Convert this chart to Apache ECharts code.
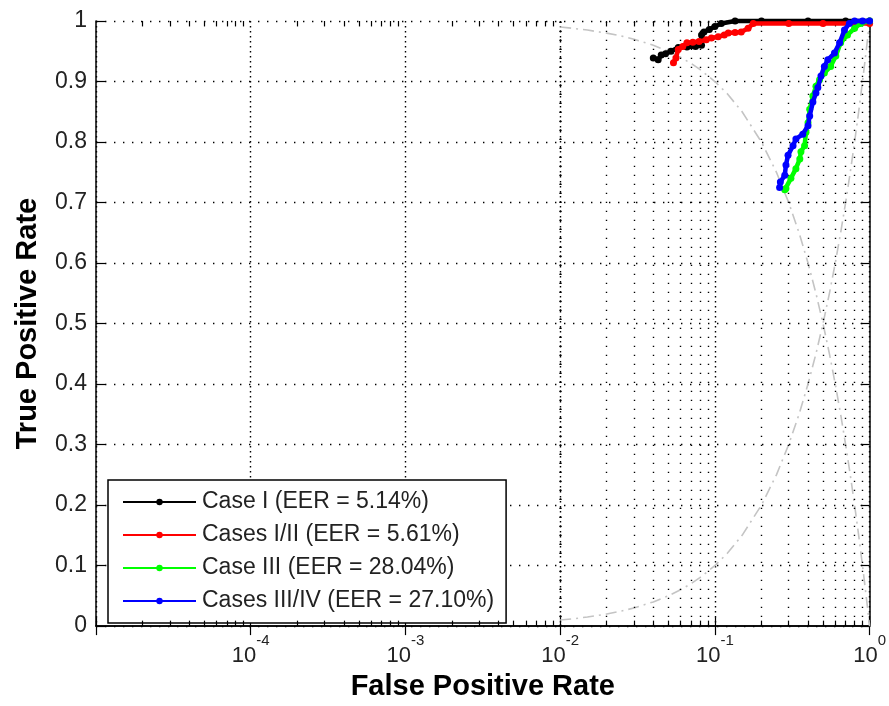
<!DOCTYPE html>
<html>
<head>
<meta charset="utf-8">
<script src="https://cdn.jsdelivr.net/npm/echarts@6/dist/echarts.min.js"></script>
<style>
html,body{margin:0;padding:0;background:#fff;}
#chart{width:889px;height:706px;}
</style>
</head>
<body>
<div id="chart"></div>
<script>
// ---- data ----
const seriesNames = ['Case I (EER = 5.14%)', 'Cases I/II (EER = 5.61%)', 'Case III (EER = 28.04%)', 'Cases III/IV (EER = 27.10%)'];
const caseI = [[0.040,0.939],[0.043,0.936],[0.045,0.944],[0.048,0.946],[0.052,0.950],[0.058,0.956],[0.066,0.957],[0.075,0.958],[0.082,0.960],[0.082,0.977],[0.085,0.982],[0.092,0.986],[0.100,0.991],[0.110,0.996],[0.135,1.0],[0.2,1.0],[0.4,1.0],[0.7,1.0],[1.0,1.0]];
const caseI_II = [[0.054,0.931],[0.056,0.939],[0.058,0.953],[0.062,0.958],[0.066,0.964],[0.072,0.965],[0.079,0.966],[0.088,0.969],[0.095,0.972],[0.105,0.974],[0.115,0.977],[0.122,0.980],[0.135,0.981],[0.148,0.982],[0.164,0.988],[0.177,0.996],[0.3,0.996],[0.5,0.996],[0.8,0.996],[1.0,0.996]];
const caseIII = [[0.283,0.721],[0.288,0.723],[0.31,0.74],[0.334,0.756],[0.354,0.772],[0.36,0.784],[0.38,0.794],[0.388,0.816],[0.40,0.832],[0.41,0.854],[0.43,0.876],[0.45,0.892],[0.475,0.903],[0.51,0.914],[0.56,0.925],[0.605,0.942],[0.65,0.964],[0.72,0.977],[0.80,0.988],[0.875,0.996],[1.0,1.0]];
const caseIII_IV = [[0.262,0.725],[0.265,0.734],[0.283,0.745],[0.288,0.762],[0.297,0.778],[0.32,0.794],[0.334,0.805],[0.37,0.813],[0.40,0.827],[0.41,0.843],[0.43,0.866],[0.45,0.881],[0.463,0.89],[0.485,0.909],[0.51,0.925],[0.537,0.936],[0.593,0.947],[0.64,0.964],[0.688,0.985],[0.74,0.996],[0.80,1.0],[0.9,1.0],[1.0,1.0]];
// reference (chance / EER) curves
const refX    = [0.01,0.0125,0.015,0.02,0.025,0.03,0.04,0.05,0.06,0.07,0.08,0.1,0.12,0.15,0.2,0.25,0.3,0.35,0.4,0.45,0.5,0.55,0.6,0.65,0.7,0.75,0.8,0.85,0.9,0.95,0.98,1.0];
const refUp   = [0.01,0.0125,0.015,0.02,0.025,0.03,0.04,0.05,0.06,0.07,0.08,0.1,0.12,0.15,0.2,0.25,0.3,0.35,0.4,0.45,0.5,0.55,0.6,0.65,0.7,0.75,0.8,0.85,0.9,0.95,0.98,1.0];
const refDown = [0.99,0.9875,0.985,0.98,0.975,0.97,0.96,0.95,0.94,0.93,0.92,0.9,0.88,0.85,0.8,0.75,0.7,0.65,0.6,0.55,0.5,0.45,0.4,0.35,0.3,0.25,0.2,0.15,0.1,0.05,0.02,0.0];
const xDecades = [1e-5,1e-4,1e-3,1e-2,1e-1,1];
const xTickLabels = {'-4':'-4','-3':'-3','-2':'-2','-1':'-1','0':'0'};
const minorMult = [2,3,4,5,6,7,8,9];
const yTicks = [0,0.1,0.2,0.3,0.4,0.5,0.6,0.7,0.8,0.9,1];

// ---- build ----
const minorVals = [];
for (let d = 0; d < xDecades.length - 1; d++) {
  for (const m of minorMult) minorVals.push(m * xDecades[d]);
}
const zip = (xs, ys) => xs.map((x, i) => [x, ys[i]]);
const colors = ['#000000', '#ff0000', '#00ff00', '#0000ff'];
const FONT = 'Liberation Sans, Arial, Helvetica, sans-serif';

const chart = echarts.init(document.getElementById('chart'), null, {renderer: 'canvas'});

const axisLineStyle = {color: '#000', width: 1.5};
const dotStyle = {color: '#000', width: 1.4, type: [1.4, 7.6]};
const dataSeries = [caseI, caseI_II, caseIII, caseIII_IV].map((d, i) => ({
  name: seriesNames[i],
  type: 'line',
  data: d,
  xAxisIndex: 0, yAxisIndex: 0,
  symbol: 'circle',
  symbolSize: 7,
  showSymbol: true,
  clip: false,
  lineStyle: {color: colors[i], width: 4.5},
  itemStyle: {color: colors[i]},
  z: 10 + i,
  animation: false
}));

const option = {
  backgroundColor: '#fff',
  animation: false,
  textStyle: {fontFamily: FONT},
  grid: {left: 96, right: 17, top: 21, bottom: 74, containLabel: false},
  legend: {
    data: seriesNames,
    orient: 'vertical',
    left: 108, top: 480,
    backgroundColor: '#fff',
    borderColor: '#000',
    borderWidth: 1.5,
    borderRadius: 0,
    padding: [10, 12, 10, 14],
    itemWidth: 73,
    itemHeight: 8,
    itemGap: 9,
    textStyle: {fontSize: 23, color: '#222', fontFamily: FONT, lineHeight: 24, padding: [0,0,0,1]},
    selectedMode: false
  },
  xAxis: [{
    type: 'log', logBase: 10, min: 1e-5, max: 1,
    position: 'bottom',
    name: 'False Positive Rate',
    nameLocation: 'middle', nameGap: 45,
    nameTextStyle: {fontSize: 29, fontWeight: 'bold', color: '#000', fontFamily: FONT},
    axisLine: {show: true, lineStyle: axisLineStyle},
    axisTick: {show: true, inside: true, length: 9, lineStyle: {color: '#000', width: 1.2}},
    axisLabel: {
      margin: 7,
      formatter: function (v) {
        const e = String(Math.round(Math.log10(v)));
        if (!(e in xTickLabels)) return '';
        return '{b|10}{s|' + xTickLabels[e] + '}';
      },
      rich: {
        b: {fontSize: 22, color: '#222', fontFamily: FONT, verticalAlign: 'bottom', lineHeight: 34},
        s: {fontSize: 15, color: '#222', fontFamily: FONT, verticalAlign: 'top', lineHeight: 34}
      }
    },
    splitLine: {show: true, lineStyle: {color: '#000', width: 1.4, type: [1.4, 3.6]}}
  }, {
    type: 'log', logBase: 10, min: 1e-5, max: 1,
    position: 'top',
    axisLine: {show: true, lineStyle: axisLineStyle},
    axisTick: {show: true, inside: true, length: 9, lineStyle: {color: '#000', width: 1.2}},
    axisLabel: {show: false},
    splitLine: {show: false}
  }],
  yAxis: [{
    type: 'value', min: 0, max: 1, interval: 0.1,
    position: 'left',
    name: 'True Positive Rate',
    nameLocation: 'middle', nameGap: 54,
    nameTextStyle: {fontSize: 29, fontWeight: 'bold', color: '#000', fontFamily: FONT},
    axisLine: {show: true, lineStyle: axisLineStyle},
    axisTick: {show: true, inside: true, length: 9, lineStyle: {color: '#000', width: 1.2}},
    axisLabel: {
      margin: 9, fontSize: 23, color: '#222', fontFamily: FONT,
      formatter: function (v) {
        const t = yTicks.find(y => Math.abs(y - v) < 1e-9);
        return t === undefined ? '' : String(t);
      }
    },
    splitLine: {show: true, lineStyle: dotStyle}
  }, {
    type: 'value', min: 0, max: 1, interval: 0.1,
    position: 'right',
    axisLine: {show: true, lineStyle: axisLineStyle},
    axisTick: {show: true, inside: true, length: 9, lineStyle: {color: '#000', width: 1.2}},
    axisLabel: {show: false},
    splitLine: {show: false}
  }],
  series: [
    {
      name: 'grid-minor', type: 'line', data: [], xAxisIndex: 0, yAxisIndex: 0, z: 1,
      silent: true, animation: false,
      markLine: {
        silent: true, animation: false, symbol: ['none', 'none'],
        label: {show: false},
        lineStyle: dotStyle,
        data: minorVals.map(v => ({xAxis: v}))
      }
    },
    {
      name: 'minor-ticks', type: 'line', data: [], xAxisIndex: 0, yAxisIndex: 0, z: 2,
      silent: true, animation: false,
      markLine: {
        silent: true, animation: false, symbol: ['none', 'none'],
        label: {show: false},
        lineStyle: {color: '#000', width: 1.2, type: 'solid'},
        data: minorVals.map(v => [{coord: [v, 0]}, {coord: [v, 0.009]}])
          .concat(minorVals.map(v => [{coord: [v, 1]}, {coord: [v, 0.991]}]))
      }
    },
    {
      name: 'ref-up', type: 'line', data: zip(refX, refUp), xAxisIndex: 0, yAxisIndex: 0,
      showSymbol: false, symbol: 'none', silent: true, z: 3, smooth: false,
      lineStyle: {color: '#c4c4c4', width: 1.6, type: [11, 5, 2, 5]}
    },
    {
      name: 'ref-down', type: 'line', data: zip(refX, refDown), xAxisIndex: 0, yAxisIndex: 0,
      showSymbol: false, symbol: 'none', silent: true, z: 3, smooth: false,
      lineStyle: {color: '#c4c4c4', width: 1.6, type: [11, 5, 2, 5]}
    }
  ].concat(dataSeries)
};
chart.setOption(option);
</script>
</body>
</html>
